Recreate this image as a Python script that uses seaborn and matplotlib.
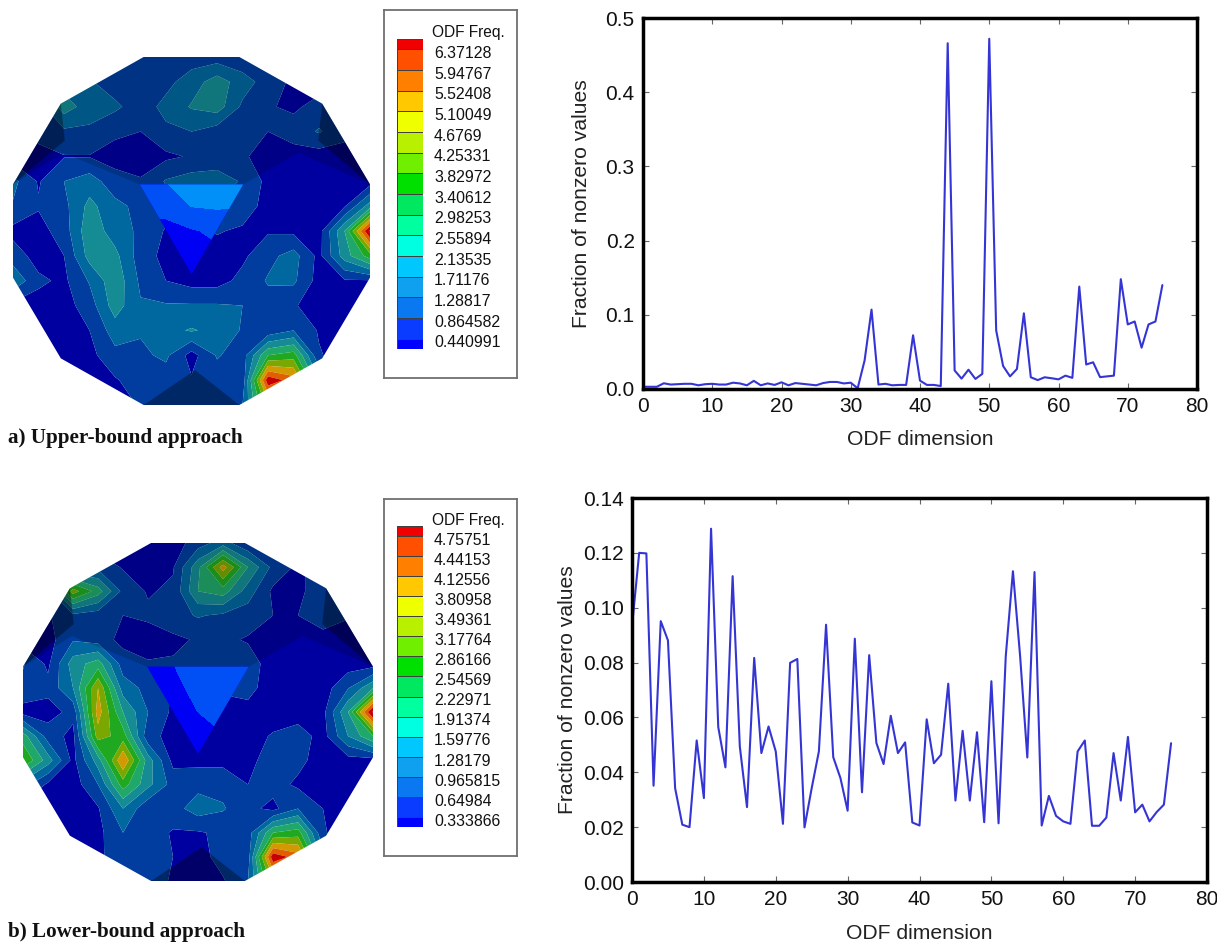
import numpy as np
import pandas as pd
import matplotlib
matplotlib.use('Agg')
import matplotlib.pyplot as plt
from matplotlib.colors import ListedColormap
from matplotlib.patches import Polygon
from matplotlib.transforms import ScaledTranslation
import seaborn as sns

W, H = 1217, 942

# line charts
upper_fraction = [0.003, 0.003, 0.003, 0.0077, 0.006, 0.0065, 0.007, 0.007, 0.005, 0.0065,
                  0.007, 0.006, 0.006, 0.0085, 0.0075, 0.005, 0.011, 0.005, 0.0075, 0.0055,
                  0.009, 0.005, 0.008, 0.007, 0.006, 0.005, 0.008, 0.0095, 0.0095, 0.0075,
                  0.0085, 0.001, 0.0385, 0.107, 0.006, 0.007, 0.005, 0.0055, 0.0055, 0.0724,
                  0.0113, 0.0055, 0.0055, 0.004, 0.466, 0.025, 0.014, 0.026, 0.0136, 0.0204,
                  0.472, 0.079, 0.031, 0.017, 0.027, 0.102, 0.0158, 0.012, 0.0158, 0.0145,
                  0.013, 0.018, 0.015, 0.138, 0.033, 0.036, 0.016, 0.017, 0.018, 0.148,
                  0.087, 0.091, 0.0557, 0.087, 0.091, 0.14]
lower_fraction = [0.0932, 0.12, 0.1198, 0.0351, 0.0951, 0.0881, 0.0342, 0.0209, 0.02, 0.0516,
                  0.0306, 0.1288, 0.0565, 0.0418, 0.1115, 0.0494, 0.0273, 0.0817, 0.047, 0.0567,
                  0.0476, 0.0212, 0.0799, 0.0813, 0.0199, 0.0342, 0.0476, 0.0938, 0.0455, 0.0379,
                  0.026, 0.0887, 0.0327, 0.0827, 0.0507, 0.043, 0.0606, 0.047, 0.0509, 0.0217,
                  0.0206, 0.0593, 0.0433, 0.0464, 0.0723, 0.0297, 0.0551, 0.0297, 0.0546, 0.0218,
                  0.0732, 0.0214, 0.0823, 0.1133, 0.0823, 0.0454, 0.113, 0.0206, 0.0314, 0.0241,
                  0.0221, 0.0212, 0.0476, 0.0516, 0.0205, 0.0205, 0.0235, 0.047, 0.0297, 0.0529,
                  0.0254, 0.0282, 0.0221, 0.0255, 0.0282, 0.0506]

# legend labels, bottom to top
legend_a = ['0.440991', '0.864582', '1.28817', '1.71176', '2.13535', '2.55894', '2.98253', '3.40612',
            '3.82972', '4.25331', '4.6769', '5.10049', '5.52408', '5.94767', '6.37128']
legend_b = ['0.333866', '0.64984', '0.965815', '1.28179', '1.59776', '1.91374', '2.22971', '2.54569',
            '2.86166', '3.17764', '3.49361', '3.80958', '4.12556', '4.44153', '4.75751']
legend_colors = ['#0000ff', '#0a3cff', '#0a78f0', '#10a0f0', '#00c8ff', '#00ffe0', '#00ff9f', '#00e860',
                 '#00e000', '#70f000', '#b8f000', '#f0ff00', '#ffc800', '#ff8000', '#ff5000', '#f00000']

# disc fields, in colour band numbers, rows from top to bottom
disc_a = [[0, 0, 0, 0, 0, 1, 1, 1, 1, 0.7, 0, 0, 0, 0, 0],
          [0, 0, 2, 1.6, 1, 1, 1.2, 2, 3, 2, 1, 0.3, 0, 0, 0],
          [0, 1, 3, 2, 1.7, 1, 1.8, 2.6, 3, 1.3, 0.6, 0.3, 0.9, 0.5, 0],
          [0, 0.9, 1.3, 1.3, 0.7, 0.5, 1.3, 1.5, 1, 0.9, 0.5, 1, 1.6, 0.8, 0],
          [0, 0.1, 0.45, 0.45, 0.1, 0, 0.3, 0.6, 0.9, 0.6, 0.2, 0, 0, 0.1, 0],
          [1.8, 0.4, 1.5, 2, 0.9, 0.6, 1.6, 2, 2, 1.4, 0.2, 0, 0, 0, 0],
          [1.4, 0.6, 1.2, 2.8, 1.8, 1.2, 1, 1.2, 1.4, 1.2, 0, 0, 0, 0.4, 3],
          [0.2, 0.1, 1, 3.2, 2, 1.3, 0.4, 0.1, 0.6, 0.3, 0.4, 0.3, 0.1, 3.5, 9.8],
          [1, 0.1, 0.5, 2.9, 2.8, 1, 0.2, 0, 0, 0.3, 1.2, 1.9, 0.2, 3, 5],
          [2.3, 0.7, 0.3, 1.6, 3.2, 1.3, 0.5, 0.1, 0.1, 0.8, 1.6, 1.7, 0.1, 0.4, 0.4],
          [0.2, 0.1, 0.1, 1, 3, 1.6, 1.6, 1.6, 1.6, 1.5, 1.1, 0.6, 0, 0, 0],
          [0, 0, 0, 0.5, 2, 1.6, 2.2, 2.6, 2.2, 1.4, 0.8, 1.5, 0.4, 0, 0],
          [0, 0, 0, 0.2, 1.2, 1.3, 1.7, 0.1, 1.6, 1, 4.5, 5, 0.6, 0, 0],
          [0, 0, 0, 0, 0.4, 1, 1, 0.6, 1, 0.8, 9.2, 8, 2.5, 0, 0],
          [0, 0, 0, 0, 0, 0.6, 1, 1, 1, 1.5, 6, 6, 1, 0, 0]]
disc_b = [[0, 0, 0, 0, 0, 0, 0, 1, 2, 0.5, 0, 0, 0, 0, 0],
          [0, 0, 1, 1.2, 0.4, 0, 0.4, 3.2, 7, 3.5, 1.2, 0.3, 1, 0, 0],
          [0, 1, 6, 4, 1.2, 0.4, 0.7, 3.5, 4, 2, 0.3, 0.3, 1, 0.4, 0],
          [0, 0.4, 1.2, 0.9, 0.5, 0.7, 1.1, 1.6, 1.3, 1, 0.5, 0.5, 1.2, 0.6, 0],
          [0, 0.1, 1.4, 1, 0.2, 0, 0.3, 0.6, 0.7, 0.4, 0, 0, 0, 0, 0],
          [1.6, 0.3, 3, 4, 1, 0.6, 0.6, 1, 1.1, 1, 0, 0, 0, 0, 0],
          [1.2, 0.8, 2.5, 6.5, 2, 1.2, 0.4, 0.4, 0.7, 0.8, 0, 0, 0, 1.4, 3.4],
          [0.1, 0.1, 0.8, 7, 3.5, 1.5, 0.3, 0, 0, 0.2, 0, 0, 0.2, 3.5, 9.8],
          [4, 1, 0.2, 6, 5, 0.8, 0.2, 0, 0, 0.1, 0.6, 1, 0.1, 2.5, 4.5],
          [5.5, 3, 0.2, 3, 7.5, 3, 0.2, 0.2, 0.2, 0.2, 1, 0.8, 0, 0.1, 0.1],
          [2, 0.3, 0, 1.5, 5, 2.8, 1.1, 1.2, 1.2, 0.5, 0.9, 0.3, 0, 0, 0],
          [0, 0, 0, 0.4, 2.5, 0.7, 1.1, 2, 1.6, 0.8, 0.2, 1.5, 0.5, 0, 0],
          [0, 0, 0, 0.2, 1.5, 1, 0.4, 0.4, 0.7, 1, 4.5, 5, 0.6, 0, 0],
          [0, 0, 0, 0.2, 1.4, 1, 0.5, 0.1, 0.9, 1, 9.2, 8, 2, 0, 0],
          [0, 0, 0, 0, 0.6, 0.9, 0.4, 0, 0.4, 1.5, 6, 6, 1, 0, 0]]
band_colors = ['#0000a0', '#003d9e', '#00689f', '#158c94', '#1fa86a', '#20a820', '#7aa800', '#d09a00',
               '#e06000', '#c80000', '#a00000']

# central facet
facet_u = [-0.29, -0.145, 0, 0.145, 0.29]
facet_v = [-0.268, -0.14, 0, 0.246]
facet_a = [[1, 1.4, 2.2, 2.5, 2.5], [1, 1, 1.5, 1.6, 1.5], [0, 0, 0.4, 0.7, 1], [0, 0, 0, 0, 0]]
facet_b = [[0, 0.45, 1, 1, 1], [0, 0.2, 0.8, 1, 1], [0, 0, 0.5, 1, 1], [0, 0, 0, 0, 0]]
facet_colors = ['#0000f5', '#0050f5', '#0090f8']

sns.set_theme(style='ticks')
plt.rcParams['font.family'] = ['Liberation Sans', 'DejaVu Sans']

fig = plt.figure(figsize=(W / 100, H / 100), dpi=100)


def px_axes(left, top, right, bottom):
    return fig.add_axes([left / W, 1 - bottom / H, (right - left) / W, (bottom - top) / H])


def draw_disc(box, field, facet):
    ax = px_axes(*box)
    ax.set_xlim(-1, 1)
    ax.set_ylim(1, -1)
    ax.axis('off')
    grid = np.linspace(-1, 1, 15)
    angles = np.deg2rad(np.arange(15, 375, 30))
    outline = Polygon(np.c_[np.cos(angles), np.sin(angles)] / np.cos(np.deg2rad(15)),
                      closed=True, transform=ax.transData, fill=False, edgecolor='none')
    ax.add_patch(outline)
    levels = [-1] + [b + 0.5 for b in range(len(band_colors))]
    cs = ax.contourf(grid, grid, field, levels=levels, colors=band_colors, antialiased=True)
    cs.set_clip_path(outline)

    # darker facets at the rim
    shades = [[(-1, -0.268), (-0.732, -0.732), (-0.71, -0.52)],
              [(1, -0.268), (0.732, -0.732), (0.71, -0.52)],
              [(-0.268, 1), (0.268, 1), (0.02, 0.8)]]
    for pts in shades:
        ax.add_patch(Polygon(pts, closed=True, facecolor='black', alpha=0.35, edgecolor='none'))
    cap = [(-1, -0.268), (-0.72, -0.45), (-0.29, -0.268), (0.29, -0.268), (0.6, -0.45), (1, -0.268),
           (0.732, -0.732), (0.268, -1), (-0.268, -1), (-0.732, -0.732)]
    ax.add_patch(Polygon(cap, closed=True, facecolor='black', alpha=0.16, edgecolor='none'))

    tri = Polygon([(-0.29, -0.268), (0.29, -0.268), (0, 0.246)], closed=True,
                  transform=ax.transData, fill=False, edgecolor='none')
    ax.add_patch(tri)
    ax.add_patch(Polygon([(-0.29, -0.268), (0.29, -0.268), (0, 0.246)], closed=True,
                         facecolor=facet_colors[0], edgecolor='none'))
    tcs = ax.contourf(facet_u, facet_v, facet, levels=[-1, 0.5, 1.5, 3], colors=facet_colors)
    tcs.set_clip_path(tri)
    return ax


def draw_legend(box, bar, labels):
    frame = px_axes(*box)
    frame.set_xticks([])
    frame.set_yticks([])
    frame.patch.set_facecolor('white')
    for s in frame.spines.values():
        s.set_color('#707070')
        s.set_linewidth(1.3)
    frame.text(48 / (box[2] - box[0]), 1 - 22 / (box[3] - box[1]), 'ODF Freq.', transform=frame.transAxes,
               fontsize=11.2, color='#111111', ha='left', va='center')

    values = [float(v) for v in labels]
    step = values[1] - values[0]
    edges = [values[0] - step * 0.5] + values + [values[-1] + step * 0.5]
    ax = px_axes(*bar)
    ax.pcolormesh([0, 1], edges, np.arange(16).reshape(-1, 1), cmap=ListedColormap(legend_colors),
                  edgecolors='#404040', linewidth=0.6)
    ax.set_ylim(edges[0], edges[-1])
    ax.set_xticks([])
    ax.yaxis.tick_right()
    ax.set_yticks(values)
    ax.set_yticklabels(labels, fontsize=11.4, color='#111111')
    ax.tick_params(axis='y', length=0, pad=8)
    shift = ScaledTranslation(0, -2 / 72, fig.dpi_scale_trans)
    for t in ax.get_yticklabels():
        t.set_transform(t.get_transform() + shift)
    for s in ax.spines.values():
        s.set_visible(False)


def draw_line(box, values, ymax, yticks, yfmt, y_label_x, x_label_y):
    ax = px_axes(*box)
    df = pd.DataFrame({'dim': np.arange(len(values)), 'frac': values})
    sns.lineplot(data=df, x='dim', y='frac', ax=ax, color='#3535d5', linewidth=1.5, errorbar=None)
    ax.set_xlim(0, 80)
    ax.set_ylim(0, ymax)
    ax.set_xticks(range(0, 81, 10))
    ax.set_yticks(yticks)
    ax.set_yticklabels([yfmt % t for t in yticks])
    ax.tick_params(direction='in', length=4, width=0.8, color='#666666', labelsize=15, labelcolor='#111111',
                   top=True, right=True, pad=6)
    ax.set_xlabel('ODF dimension', fontsize=15.2, color='#222222')
    ax.set_ylabel('Fraction of nonzero values', fontsize=15.2, color='#222222')
    ax.xaxis.set_label_coords(0.5, x_label_y)
    ax.yaxis.set_label_coords(y_label_x, 0.5)
    for s in ax.spines.values():
        s.set_color('black')
        s.set_linewidth(2.5)
    return ax


draw_disc((13, 57, 370, 405), disc_a, facet_a)
draw_disc((23, 543, 373, 881), disc_b, facet_b)
draw_legend((384, 10, 517, 378), (397, 39, 423, 349), legend_a)
draw_legend((384, 499, 517, 856), (397, 526, 423, 827), legend_b)

draw_line((643, 18, 1197, 389), upper_fraction, 0.5, [0, 0.1, 0.2, 0.3, 0.4, 0.5], '%.1f', -0.094, -0.11)
draw_line((632, 498, 1207, 882), lower_fraction, 0.14, [0, 0.02, 0.04, 0.06, 0.08, 0.1, 0.12, 0.14], '%.2f', -0.095, -0.11)

fig.text(8 / W, 1 - 438 / H, 'a) Upper-bound approach', family='Liberation Serif', weight='bold', fontsize=15.2,
         va='center', ha='left', color='#111111')
fig.text(8 / W, 1 - 932 / H, 'b) Lower-bound approach', family='Liberation Serif', weight='bold', fontsize=15.2,
         va='center', ha='left', color='#111111')

fig.savefig('out.png', dpi=100)
